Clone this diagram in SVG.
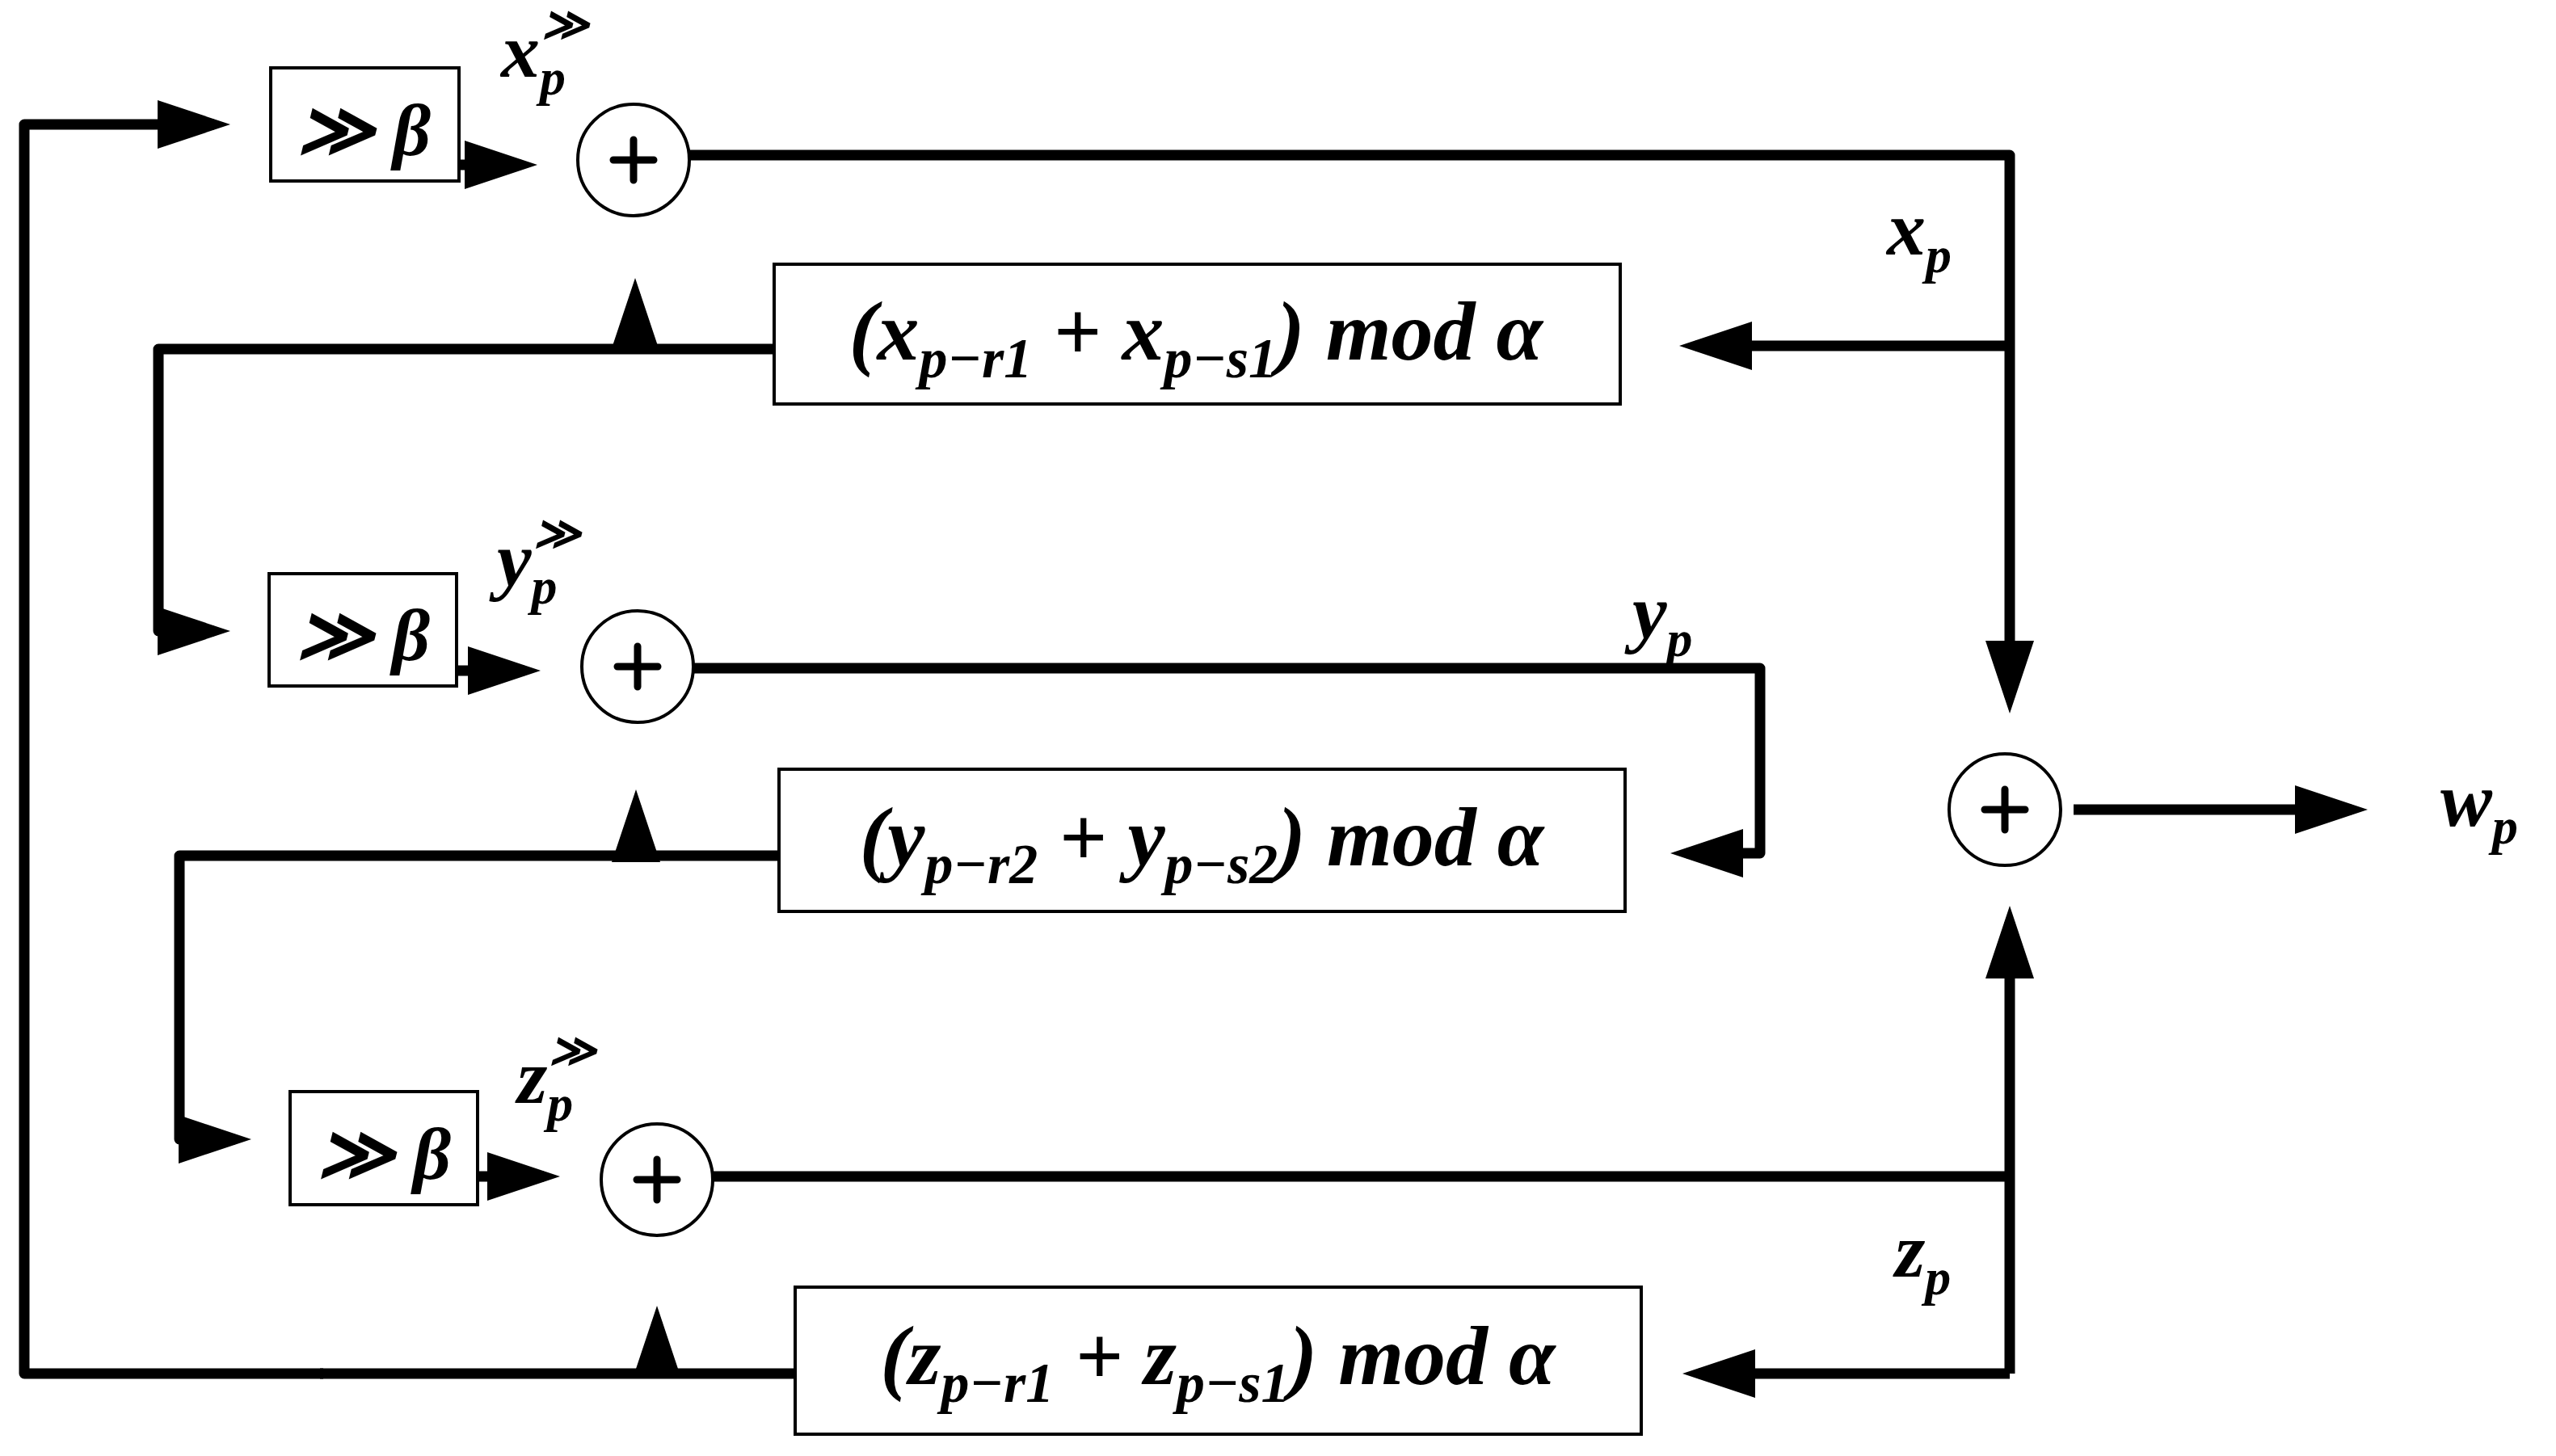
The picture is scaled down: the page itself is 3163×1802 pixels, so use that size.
<svg xmlns="http://www.w3.org/2000/svg" width="3163" height="1802" viewBox="0 0 3163 1802">
<style>
.w{fill:none;stroke:#000;stroke-width:13;stroke-linejoin:round;stroke-linecap:butt}
.b{fill:#fff;stroke:#000;stroke-width:4}
.t{font-family:"Liberation Serif","DejaVu Serif",serif;font-style:italic;font-weight:bold;fill:#000}
.p{stroke:#000;stroke-width:9;stroke-linecap:round}
</style>
<defs>
<marker id="a" markerUnits="userSpaceOnUse" markerWidth="96" markerHeight="64" refX="70" refY="30" orient="auto"><path d="M0,0 L90,30 L0,60 z" fill="#000"/></marker>
</defs>
<rect width="3163" height="1802" fill="#fff"/>
<g id="connectors">
<path class="w" d="M400,1700 L30,1700 L30,154 L265,154" marker-end="url(#a)"/>
<path class="w" d="M568,204 L645,204" marker-end="url(#a)"/>
<path class="w" d="M853,192 L2487,192 L2487,863" marker-end="url(#a)"/>
<path class="w" d="M2487,428 L2098,428" marker-end="url(#a)"/>
<path class="w" d="M958,432 L196,432 L196,781 L265,781" marker-end="url(#a)"/>
<path class="w" d="M786,432 L786,364" marker-end="url(#a)"/>
<path class="w" d="M565,830 L649,830" marker-end="url(#a)"/>
<path class="w" d="M858,827 L2178,827 L2178,1056 L2087,1056" marker-end="url(#a)"/>
<path class="w" d="M964,1059 L222,1059 L222,1410 L291,1410" marker-end="url(#a)"/>
<path class="w" d="M787,1059 L787,997" marker-end="url(#a)"/>
<path class="w" d="M591,1456 L673,1456" marker-end="url(#a)"/>
<path class="w" d="M882,1456 L2487,1456"/>
<path class="w" d="M2487,1700 L2487,1141" marker-end="url(#a)"/>
<path class="w" d="M2487,1700 L2102,1700" marker-end="url(#a)"/>
<path class="w" d="M984,1700 L396,1700"/>
<path class="w" d="M813,1700 L813,1636" marker-end="url(#a)"/>
<path class="w" d="M2566,1002 L2910,1002" marker-end="url(#a)"/>
</g>
<g id="shift1"><rect class="b" x="335" y="84" width="233" height="140"/><text class="t" x="450" y="192" font-size="92" text-anchor="middle">≫ β</text></g>
<g id="shift2"><rect class="b" x="333" y="710" width="232" height="139"/><text class="t" x="449" y="817" font-size="92" text-anchor="middle">≫ β</text></g>
<g id="shift3"><rect class="b" x="359" y="1351" width="232" height="140"/><text class="t" x="475" y="1459" font-size="92" text-anchor="middle">≫ β</text></g>
<g id="sum1"><circle class="b" cx="784" cy="198" r="69"/><path class="p" d="M759,198 H809 M784,173 V223"/></g>
<g id="sum2"><circle class="b" cx="789" cy="825" r="69"/><path class="p" d="M764,825 H814 M789,800 V850"/></g>
<g id="sum3"><circle class="b" cx="813" cy="1460" r="69"/><path class="p" d="M788,1460 H838 M813,1435 V1485"/></g>
<g id="sum4"><circle class="b" cx="2481" cy="1002" r="69"/><path class="p" d="M2456,1002 H2506 M2481,977 V1027"/></g>
<g id="mod1"><rect class="b" x="958" y="327" width="1047" height="173"/><text class="t" x="1480" y="445" font-size="104" text-anchor="middle">(x<tspan font-size="70" dy="22">p−r1</tspan><tspan dy="-22"> + x</tspan><tspan font-size="70" dy="22">p−s1</tspan><tspan dy="-22">) mod α</tspan></text></g>
<g id="mod2"><rect class="b" x="964" y="952" width="1047" height="176"/><text class="t" x="1487" y="1071" font-size="104" text-anchor="middle">(y<tspan font-size="70" dy="22">p−r2</tspan><tspan dy="-22"> + y</tspan><tspan font-size="70" dy="22">p−s2</tspan><tspan dy="-22">) mod α</tspan></text></g>
<g id="mod3"><rect class="b" x="984" y="1593" width="1047" height="182"/><text class="t" x="1507" y="1713" font-size="104" text-anchor="middle">(z<tspan font-size="70" dy="22">p−r1</tspan><tspan dy="-22"> + z</tspan><tspan font-size="70" dy="22">p−s1</tspan><tspan dy="-22">) mod α</tspan></text></g>
<g id="labels">
<text class="t" x="620" y="95" font-size="96">x<tspan font-size="64" dy="22">p</tspan><tspan font-size="56" dx="-30" dy="-68">≫</tspan></text>
<text class="t" x="615" y="725" font-size="96">y<tspan font-size="64" dy="22">p</tspan><tspan font-size="56" dx="-30" dy="-68">≫</tspan></text>
<text class="t" x="640" y="1365" font-size="96">z<tspan font-size="64" dy="22">p</tspan><tspan font-size="56" dx="-30" dy="-68">≫</tspan></text>
<text class="t" x="2335" y="315" font-size="96">x<tspan font-size="64" dy="22">p</tspan></text>
<text class="t" x="2020" y="790" font-size="96">y<tspan font-size="64" dy="22">p</tspan></text>
<text class="t" x="2345" y="1580" font-size="96">z<tspan font-size="64" dy="22">p</tspan></text>
<text class="t" x="3020" y="1022" font-size="96">w<tspan font-size="64" dy="22">p</tspan></text>
</g>
</svg>
